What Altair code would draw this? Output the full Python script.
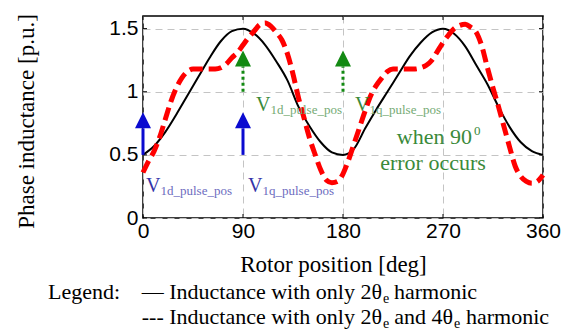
import altair as alt
import pandas as pd

# ---------------- data ----------------
deg_black = list(range(0, 361, 10))
ind_black = [0.50, 0.57, 0.68, 0.82, 0.97, 1.12, 1.27, 1.40, 1.48, 1.50,
             1.46, 1.37, 1.24, 1.09, 0.88, 0.725, 0.60, 0.52, 0.50,
             0.55, 0.71, 0.86, 1.00, 1.14, 1.28, 1.39, 1.47, 1.50,
             1.46, 1.36, 1.21, 1.06, 0.88, 0.72, 0.60, 0.53, 0.50]

deg_red = list(range(0, 361, 5))
ind_red = [0.36, 0.45, 0.53, 0.64, 0.78, 0.92, 1.03, 1.11, 1.16, 1.18,
           1.18, 1.18, 1.18, 1.18, 1.19, 1.22, 1.27, 1.31, 1.37, 1.43,
           1.48, 1.53, 1.545, 1.52, 1.47, 1.41, 1.30, 1.14, 0.95, 0.79,
           0.63, 0.50, 0.38, 0.30, 0.28, 0.29, 0.35, 0.46, 0.59, 0.72,
           0.85, 0.97, 1.05, 1.11, 1.16, 1.18, 1.18, 1.18, 1.18, 1.18,
           1.19, 1.21, 1.25, 1.32, 1.39, 1.45, 1.50, 1.525, 1.535, 1.51,
           1.47, 1.36, 1.19, 1.03, 0.88, 0.72, 0.56, 0.41, 0.33, 0.29,
           0.275, 0.29, 0.34]

x_ticks = [0, 90, 180, 270, 360]
y_ticks = [0, 0.5, 1, 1.5]

# pulse arrows
blue_arrow_deg = [0, 90]
blue_arrow_from = [0.5, 0.5]
blue_arrow_head = [0.71, 0.71]
green_arrow_deg = [90, 180]
green_arrow_from = [1.0, 1.0]
green_arrow_head = [1.2, 1.2]

# pulse labels
blue_label_deg = [0, 90]
blue_label_dx = [3, 5]
blue_label_val = [0.206, 0.206]
blue_label_sub = ["1d_pulse_pos", "1q_pulse_pos"]
green_label_deg = [90, 180]
green_label_dx = [13, 12]
green_label_val = [0.849, 0.849]
green_label_sub = ["1d_pulse_pos", "1q_pulse_pos"]

SERIF = "Liberation Serif"
SANS = "Liberation Sans"
W, H = 400, 202

black_df = pd.DataFrame({"deg": deg_black, "L": ind_black})
red_df = pd.DataFrame({"deg": deg_red, "L": ind_red})

x_axis = alt.Axis(values=x_ticks, format="d", labelFont=SANS, labelFontSize=21,
                  labelColor="black", labelPadding=2, ticks=False, domain=False,
                  grid=True, gridDash=[7, 5], gridColor="#c4c4c4", gridWidth=1,
                  labelFlush=False, labelOverlap=False,
                  title="Rotor position [deg]", titleFont=SERIF, titleFontSize=23,
                  titleFontWeight="normal", titleColor="black", titleX=190, titleY=53,
                  titleAlign="center", titleBaseline="alphabetic")
y_axis = alt.Axis(values=y_ticks, format="~g", labelFont=SANS, labelFontSize=21,
                  labelColor="black", labelPadding=5, ticks=False, domain=False,
                  grid=True, gridDash=[7, 5], gridColor="#c4c4c4", gridWidth=1,
                  labelFlush=False, labelOverlap=False,
                  title="Phase inductance [p.u.]", titleFont=SERIF, titleFontSize=23,
                  titleFontWeight="normal", titleColor="black", titleAngle=270,
                  titleX=-110, titleY=105, titleAlign="center", titleBaseline="alphabetic")

xs = alt.Scale(domain=[0, 360], nice=False, zero=False)
ys = alt.Scale(domain=[0, 1.6], nice=False)
X = alt.X("deg:Q", scale=xs, axis=x_axis)
Y = alt.Y("L:Q", scale=ys, axis=y_axis)

black = alt.Chart(black_df).mark_line(color="black", strokeWidth=2, interpolate="monotone").encode(x=X, y=Y)
red = alt.Chart(red_df).mark_line(color="#ff0000", strokeWidth=5, strokeDash=[13, 6],
                                  interpolate="monotone").encode(x=X, y=Y)

# inward ticks
xt_df = pd.DataFrame({"deg": x_ticks})
yt_df = pd.DataFrame({"L": y_ticks})
tick_bottom = alt.Chart(xt_df).mark_rule(color="black", strokeWidth=1).encode(
    x=X, y=alt.value(H - 4), y2=alt.value(H))
tick_top = alt.Chart(xt_df).mark_rule(color="black", strokeWidth=1).encode(
    x=X, y=alt.value(0), y2=alt.value(4))
tick_left = alt.Chart(yt_df).mark_rule(color="black", strokeWidth=1).encode(
    y=Y, x=alt.value(0), x2=alt.value(4))
tick_right = alt.Chart(yt_df).mark_rule(color="black", strokeWidth=1).encode(
    y=Y, x=alt.value(W - 4), x2=alt.value(W))

# arrows
blue_df = pd.DataFrame({"deg": blue_arrow_deg, "L": blue_arrow_from, "L2": blue_arrow_head})
green_df = pd.DataFrame({"deg": green_arrow_deg, "L": green_arrow_from, "L2": green_arrow_head})
HEAD = "M-1,0L1,0L0,-2Z"
blue_shaft = alt.Chart(blue_df).mark_rule(color="#0a0ad0", strokeWidth=3).encode(x=X, y=Y, y2="L2:Q")
blue_head = alt.Chart(blue_df).mark_point(shape=HEAD, filled=True, size=256, color="#0a0ad0",
                                          opacity=1, strokeWidth=0).encode(
    x=X, y=alt.Y("L2:Q", scale=ys, axis=y_axis))
green_shaft = alt.Chart(green_df).mark_rule(color="#138a13", strokeWidth=3, strokeDash=[3, 3]).encode(
    x=X, y=Y, y2="L2:Q")
green_head = alt.Chart(green_df).mark_point(shape=HEAD, filled=True, size=256, color="#138a13",
                                            opacity=1, strokeWidth=0).encode(
    x=X, y=alt.Y("L2:Q", scale=ys, axis=y_axis))

# pulse labels (V + subscript)
def v_label(degs, vals, dxs, subs, vcol, scol):
    layers = []
    for d, v, dx, s in zip(degs, vals, dxs, subs):
        df = pd.DataFrame({"deg": [d], "L": [v], "v": ["V"], "s": [s]})
        layers.append(alt.Chart(df).mark_text(font=SERIF, fontSize=20, color=vcol, align="left",
                                              baseline="alphabetic", dx=dx).encode(x=X, y=Y, text="v:N"))
        layers.append(alt.Chart(df).mark_text(font=SERIF, fontSize=13, color=scol, align="left",
                                              baseline="alphabetic", dx=dx + 14.5, dy=3).encode(
            x=X, y=Y, text="s:N"))
    return layers

blue_labels = v_label(blue_label_deg, blue_label_val, blue_label_dx, blue_label_sub, "#3434a8", "#6c6cc0")
green_labels = v_label(green_label_deg, green_label_val, green_label_dx, green_label_sub, "#3a8a3a", "#74aa74")

# free text annotations (pixel positions relative to plot area)
def txt(t, x, y, size, color="black", align="left", font=SERIF):
    return alt.Chart(pd.DataFrame({"t": [t]})).mark_text(
        font=font, fontSize=size, color=color, align=align, baseline="alphabetic").encode(
        x=alt.value(x), y=alt.value(y), text="t:N")

GREEN_TXT = "#3a8a3a"
LEG = 22
notes = [
    txt("when 90", 329, 128, 22, GREEN_TXT, "right"),
    txt("0", 331, 119, 13, GREEN_TXT),
    txt("error occurs", 290, 154, 22, GREEN_TXT, "center"),
    # legend line 1
    txt("Legend:", -95, 283, LEG),
    txt("\u2014 Inductance with only 2\u03b8", 239, 283, LEG, "black", "right"),
    txt("e", 240, 287, 14),
    txt("harmonic", 251, 283, LEG),
    # legend line 2
    txt("--- Inductance with only 2\u03b8", 239, 308, LEG, "black", "right"),
    txt("e", 240, 312, 14),
    txt("and 4\u03b8", 310, 308, LEG, "black", "right"),
    txt("e", 311, 312, 14),
    txt("harmonic", 323, 308, LEG),
]

chart = alt.layer(
    black, red,
    tick_bottom, tick_top, tick_left, tick_right,
    *blue_labels, *green_labels,
    blue_shaft, blue_head, green_shaft, green_head,
    *notes,
).properties(
    width=W, height=H,
    padding={"left": 143, "top": 16, "right": 31, "bottom": 112},
    autosize=alt.AutoSizeParams(type="none"),
).configure_view(stroke="black", strokeWidth=1.5)

chart.save("out.html", embed_options={"renderer": "svg", "actions": False})
